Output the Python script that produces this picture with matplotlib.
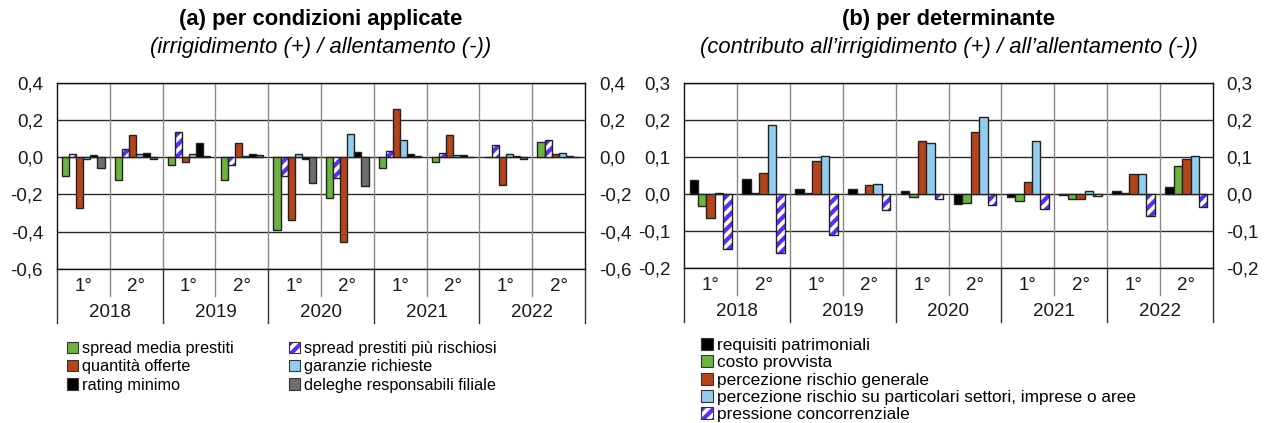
import matplotlib
matplotlib.use("Agg")
import matplotlib.pyplot as plt
from matplotlib.patches import Patch, Rectangle
from matplotlib.legend_handler import HandlerBase
import numpy as np

plt.rcParams['font.family'] = ['Liberation Sans', 'DejaVu Sans']

# ---------------- data ----------------
halves = ["1°", "2°"] * 5
years = ["2018", "2019", "2020", "2021", "2022"]

# panel (a)
spread_media = [-0.10, -0.125, -0.04, -0.125, -0.39, -0.22, -0.06, -0.027, 0.0, 0.083]
spread_rischiosi = [0.018, 0.043, 0.137, -0.04, -0.103, -0.11, 0.034, 0.023, 0.065, 0.092]
quantita = [-0.274, 0.122, -0.027, 0.079, -0.34, -0.454, 0.261, 0.119, -0.151, 0.018]
garanzie = [-0.01, 0.018, 0.018, 0.007, 0.018, 0.124, 0.092, 0.01, 0.02, 0.023]
rating = [0.01, 0.025, 0.076, 0.02, -0.007, 0.029, 0.02, 0.014, 0.008, 0.008]
deleghe = [-0.06, -0.01, 0.005, 0.01, -0.14, -0.157, 0.005, 0.0, -0.008, 0.0]

# panel (b)
requisiti = [0.036, 0.041, 0.012, 0.012, 0.006, -0.028, -0.008, -0.003, 0.007, 0.019]
costo = [-0.034, 0.001, 0.001, 0.0, -0.010, -0.024, -0.019, -0.013, 0.001, 0.075]
rischio_gen = [-0.067, 0.055, 0.088, 0.023, 0.142, 0.167, 0.032, -0.013, 0.052, 0.095]
rischio_part = [0.002, 0.185, 0.103, 0.025, 0.137, 0.206, 0.142, 0.008, 0.052, 0.103]
concorrenza = [-0.150, -0.161, -0.112, -0.045, -0.015, -0.031, -0.042, -0.005, -0.059, -0.037]

GREEN = '#6db33f'
ORANGE = '#b5441b'
BLUE = '#92cdee'
BLACK = '#000000'
GRAY = '#6e6e6e'
PURPLE = '#5a2ff0'
EDGE = '#222222'
HATCH = '///'

plt.rcParams['hatch.linewidth'] = 3.0

fig = plt.figure(figsize=(12.66, 4.23), dpi=100)
W, H = 1266, 423
TICK_FS = 13.5


def fmt(v, pos=None):
    s = f"{v:.1f}".replace('.', ',')
    if s == '-0,0':
        s = '0,0'
    return s


def hatched_bar(ax, x, vals, w):
    ax.bar(x, vals, w, color='white', edgecolor=PURPLE, hatch=HATCH, linewidth=0, zorder=3)
    ax.bar(x, vals, w, fill=False, edgecolor=EDGE, linewidth=1.0, zorder=4)


def setup_axes(ax, ylim, yticks):
    ax.set_xlim(-0.5, 9.5)
    ax.set_ylim(*ylim)
    ax.set_yticks(yticks)
    ax.yaxis.set_major_formatter(plt.FuncFormatter(fmt))
    ax.tick_params(axis='y', length=0, labelsize=TICK_FS, labelleft=True, labelright=True,
                   pad=10, colors='#1a1a1a')
    ax.set_xticks([])
    for y in yticks:
        ax.axhline(y, color='#2a2a2a', lw=1.0, zorder=1)
    for xv in np.arange(0.5, 9.5, 1.0):
        ax.axvline(xv, color='#8a8a8a', lw=1.0, zorder=1)
    for sp in ax.spines.values():
        sp.set_color('#111111')
        sp.set_linewidth(1.0)
    tr = ax.get_xaxis_transform()
    for i, h in enumerate(halves):
        ax.text(i, -0.095, h, transform=tr, ha='center', va='center', fontsize=TICK_FS, color='#1a1a1a')
    for j, yr in enumerate(years):
        ax.text(2 * j + 0.5, -0.235, yr, transform=tr, ha='center', va='center', fontsize=TICK_FS,
                color='#1a1a1a')
    for j in range(5):
        ax.plot([2 * j + 0.5] * 2, [0, -0.145], transform=tr, color='#8a8a8a', lw=1.0, clip_on=False)
    for xv in np.arange(-0.5, 10.5, 2.0):
        ax.plot([xv, xv], [0, -0.295], transform=tr, color='#333333', lw=1.0, clip_on=False)


x = np.arange(10)

# ---------------- panel (a) ----------------
axA = fig.add_axes([57 / W, 1 - 268.7 / H, 528 / W, 185.7 / H])
setup_axes(axA, (-0.6, 0.4), [-0.6, -0.4, -0.2, 0.0, 0.2, 0.4])
wa = 0.8 / 6
offs = (np.arange(6) - 2.5) * wa
axA.bar(x + offs[0], spread_media, wa, color=GREEN, edgecolor=EDGE, lw=1.0, zorder=3)
hatched_bar(axA, x + offs[1], spread_rischiosi, wa)
axA.bar(x + offs[2], quantita, wa, color=ORANGE, edgecolor=EDGE, lw=1.0, zorder=3)
axA.bar(x + offs[3], garanzie, wa, color=BLUE, edgecolor=EDGE, lw=1.0, zorder=3)
axA.bar(x + offs[4], rating, wa, color=BLACK, edgecolor=EDGE, lw=1.0, zorder=3)
axA.bar(x + offs[5], deleghe, wa, color=GRAY, edgecolor=EDGE, lw=1.0, zorder=3)

# ---------------- panel (b) ----------------
axB = fig.add_axes([684.3 / W, 1 - 267.7 / H, 528.4 / W, 185 / H])
setup_axes(axB, (-0.2, 0.3), [-0.2, -0.1, 0.0, 0.1, 0.2, 0.3])
wb = 0.8 / 5
offs = (np.arange(5) - 2) * wb
axB.bar(x + offs[0], requisiti, wb, color=BLACK, edgecolor=EDGE, lw=1.0, zorder=3)
axB.bar(x + offs[1], costo, wb, color=GREEN, edgecolor=EDGE, lw=1.0, zorder=3)
axB.bar(x + offs[2], rischio_gen, wb, color=ORANGE, edgecolor=EDGE, lw=1.0, zorder=3)
axB.bar(x + offs[3], rischio_part, wb, color=BLUE, edgecolor=EDGE, lw=1.0, zorder=3)
hatched_bar(axB, x + offs[4], concorrenza, wb)

# ---------------- titles ----------------
cxA = (57 + 585) / 2 / W
cxB = (684.3 + 1212.7) / 2 / W
TFS = 15.8
fig.text(cxA, 1 - 20 / H, "(a) per condizioni applicate", ha='center', va='center',
         fontsize=TFS, fontweight='bold')
fig.text(cxA, 1 - 47 / H, "(irrigidimento (+) / allentamento (-))", ha='center', va='center',
         fontsize=TFS, style='italic')
fig.text(cxB, 1 - 20 / H, "(b) per determinante", ha='center', va='center',
         fontsize=TFS, fontweight='bold')
fig.text(cxB, 1 - 47 / H, "(contributo all’irrigidimento (+) / all’allentamento (-))", ha='center',
         va='center', fontsize=TFS, style='italic')


# ---------------- legends ----------------
class HatchHandle:
    pass


class HandlerHatch(HandlerBase):
    def create_artists(self, legend, orig_handle, xdescent, ydescent, width, height, fontsize, trans):
        back = Rectangle((-xdescent, -ydescent), width, height, facecolor='white',
                         edgecolor=PURPLE, hatch=HATCH, lw=0, transform=trans)
        front = Rectangle((-xdescent, -ydescent), width, height, fill=False,
                          edgecolor='#333333', lw=0.8, transform=trans)
        return [back, front]


def handle(color):
    return Patch(facecolor=color, edgecolor='#333333', lw=0.8)


hmap = {HatchHandle: HandlerHatch()}
leg_kw = dict(frameon=False, fontsize=11.7, handlelength=0.7, handleheight=0.7,
              handletextpad=0.25, borderpad=0, borderaxespad=0, labelspacing=0.2,
              handler_map=hmap)

fig.legend([handle(GREEN), handle(ORANGE), handle(BLACK)],
           ["spread media prestiti", "quantità offerte", "rating minimo"],
           loc='upper left', bbox_to_anchor=(67 / W, 1 - 341 / H), **leg_kw)
fig.legend([HatchHandle(), handle(BLUE), handle(GRAY)],
           ["spread prestiti più rischiosi", "garanzie richieste", "deleghe responsabili filiale"],
           loc='upper left', bbox_to_anchor=(289 / W, 1 - 341 / H), **leg_kw)
leg_kw2 = dict(leg_kw)
leg_kw2['labelspacing'] = 0.13
leg_kw2['fontsize'] = 12.4
fig.legend([handle(BLACK), handle(GREEN), handle(ORANGE), handle(BLUE), HatchHandle()],
           ["requisiti patrimoniali", "costo provvista", "percezione rischio generale",
            "percezione rischio su particolari settori, imprese o aree",
            "pressione concorrenziale"],
           loc='upper left', bbox_to_anchor=(701 / W, 1 - 338 / H), **leg_kw2)

fig.savefig("out.png", dpi=100)
